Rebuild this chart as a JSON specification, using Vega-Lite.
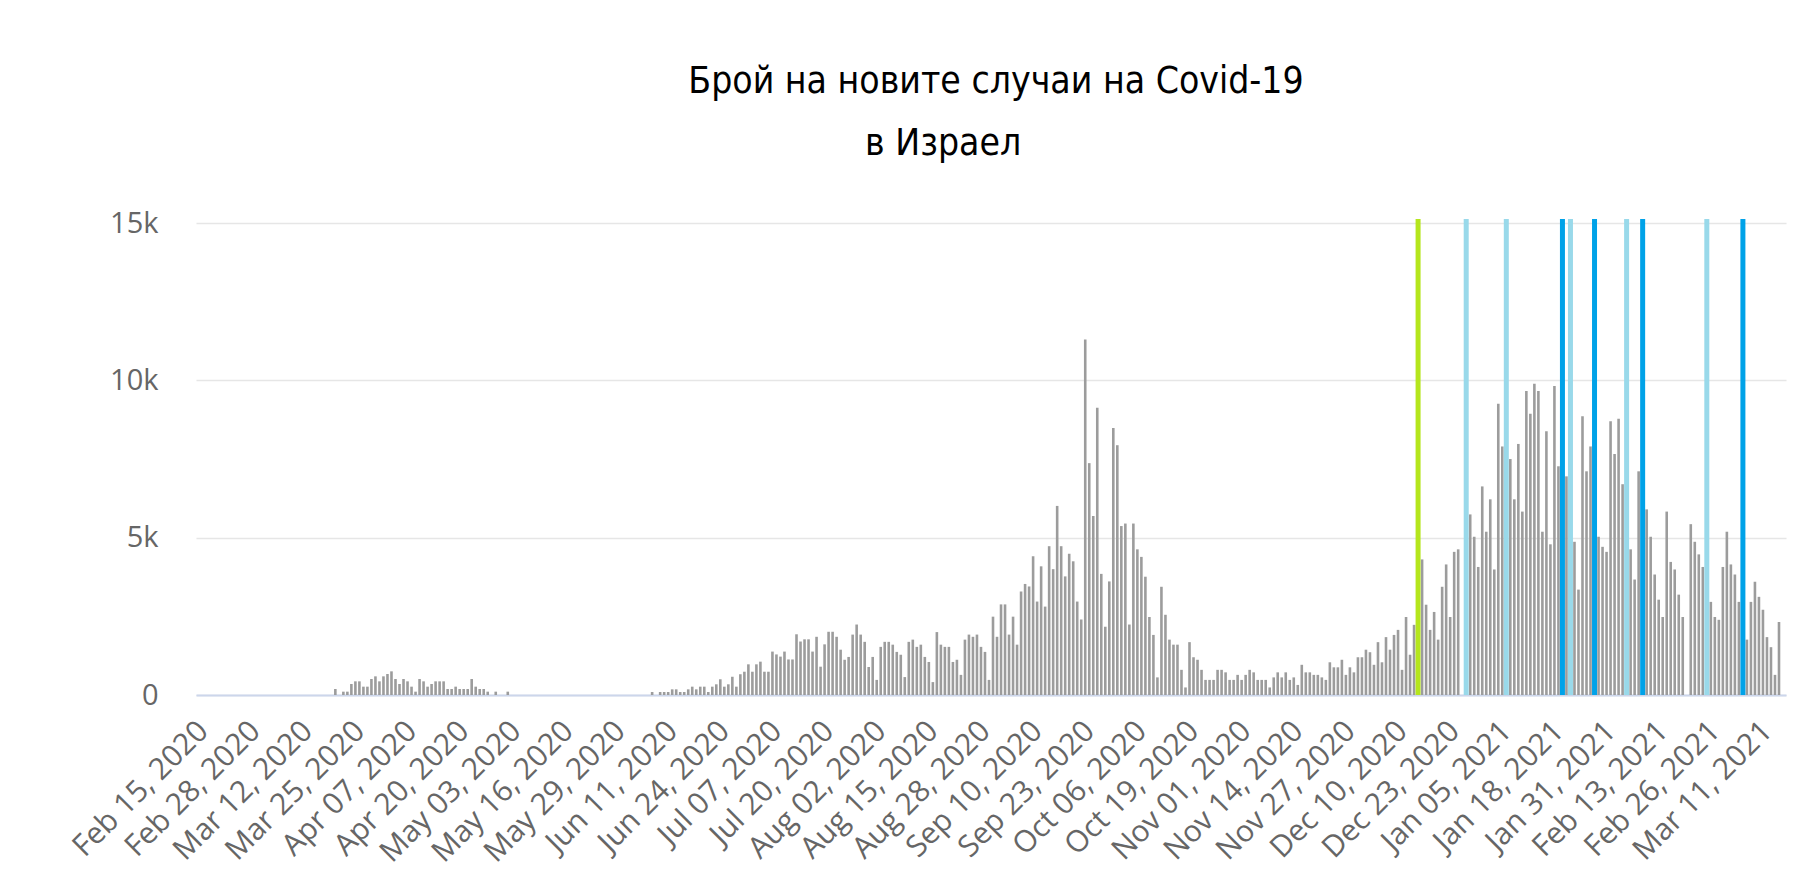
{
  "$schema": "https://vega.github.io/schema/vega-lite/v6.json",
  "autosize": {"type": "none"},
  "padding": {"left": 196, "top": 219, "right": 28, "bottom": 194},
  "width": 1590,
  "height": 476,
  "background": "#ffffff",
  "title": {
    "text": ["Брой на новите случаи на Covid-19", "в Израел\u00a0\u00a0\u00a0\u00a0\u00a0\u00a0\u00a0\u00a0\u00a0\u00a0\u200b"],
    "font": "'DejaVu Sans Condensed', 'Liberation Sans Narrow', 'Roboto Condensed', sans-serif",
    "fontSize": 37,
    "fontWeight": "normal",
    "color": "#000000",
    "anchor": "middle",
    "frame": "group",
    "dx": 5,
    "offset": 46,
    "lineHeight": 62
  },
  "datasets": {
    "cases": [
      {"date": "2020-03-19T12:00", "cases": 190},
      {"date": "2020-03-21T12:00", "cases": 106},
      {"date": "2020-03-22T12:00", "cases": 106},
      {"date": "2020-03-23T12:00", "cases": 350},
      {"date": "2020-03-24T12:00", "cases": 434},
      {"date": "2020-03-25T12:00", "cases": 434},
      {"date": "2020-03-26T12:00", "cases": 265},
      {"date": "2020-03-27T12:00", "cases": 265},
      {"date": "2020-03-28T12:00", "cases": 508},
      {"date": "2020-03-29T12:00", "cases": 593},
      {"date": "2020-03-30T12:00", "cases": 434},
      {"date": "2020-03-31T12:00", "cases": 593},
      {"date": "2020-04-01T12:00", "cases": 667},
      {"date": "2020-04-02T12:00", "cases": 752},
      {"date": "2020-04-03T12:00", "cases": 508},
      {"date": "2020-04-04T12:00", "cases": 350},
      {"date": "2020-04-05T12:00", "cases": 508},
      {"date": "2020-04-06T12:00", "cases": 434},
      {"date": "2020-04-07T12:00", "cases": 265},
      {"date": "2020-04-08T12:00", "cases": 106},
      {"date": "2020-04-09T12:00", "cases": 508},
      {"date": "2020-04-10T12:00", "cases": 434},
      {"date": "2020-04-11T12:00", "cases": 265},
      {"date": "2020-04-12T12:00", "cases": 350},
      {"date": "2020-04-13T12:00", "cases": 434},
      {"date": "2020-04-14T12:00", "cases": 434},
      {"date": "2020-04-15T12:00", "cases": 434},
      {"date": "2020-04-16T12:00", "cases": 190},
      {"date": "2020-04-17T12:00", "cases": 190},
      {"date": "2020-04-18T12:00", "cases": 265},
      {"date": "2020-04-19T12:00", "cases": 190},
      {"date": "2020-04-20T12:00", "cases": 190},
      {"date": "2020-04-21T12:00", "cases": 190},
      {"date": "2020-04-22T12:00", "cases": 508},
      {"date": "2020-04-23T12:00", "cases": 265},
      {"date": "2020-04-24T12:00", "cases": 190},
      {"date": "2020-04-25T12:00", "cases": 190},
      {"date": "2020-04-26T12:00", "cases": 106},
      {"date": "2020-04-28T12:00", "cases": 106},
      {"date": "2020-05-01T12:00", "cases": 106},
      {"date": "2020-06-06T12:00", "cases": 95},
      {"date": "2020-06-08T12:00", "cases": 95},
      {"date": "2020-06-09T12:00", "cases": 95},
      {"date": "2020-06-10T12:00", "cases": 95},
      {"date": "2020-06-11T12:00", "cases": 180},
      {"date": "2020-06-12T12:00", "cases": 180},
      {"date": "2020-06-13T12:00", "cases": 95},
      {"date": "2020-06-14T12:00", "cases": 95},
      {"date": "2020-06-15T12:00", "cases": 180},
      {"date": "2020-06-16T12:00", "cases": 265},
      {"date": "2020-06-17T12:00", "cases": 180},
      {"date": "2020-06-18T12:00", "cases": 265},
      {"date": "2020-06-19T12:00", "cases": 265},
      {"date": "2020-06-20T12:00", "cases": 95},
      {"date": "2020-06-21T12:00", "cases": 265},
      {"date": "2020-06-22T12:00", "cases": 340},
      {"date": "2020-06-23T12:00", "cases": 500},
      {"date": "2020-06-24T12:00", "cases": 265},
      {"date": "2020-06-25T12:00", "cases": 340},
      {"date": "2020-06-26T12:00", "cases": 580},
      {"date": "2020-06-27T12:00", "cases": 265},
      {"date": "2020-06-28T12:00", "cases": 660},
      {"date": "2020-06-29T12:00", "cases": 740},
      {"date": "2020-06-30T12:00", "cases": 975},
      {"date": "2020-07-01T12:00", "cases": 740},
      {"date": "2020-07-02T12:00", "cases": 975},
      {"date": "2020-07-03T12:00", "cases": 1060},
      {"date": "2020-07-04T12:00", "cases": 740},
      {"date": "2020-07-05T12:00", "cases": 740},
      {"date": "2020-07-06T12:00", "cases": 1380},
      {"date": "2020-07-07T12:00", "cases": 1290},
      {"date": "2020-07-08T12:00", "cases": 1220},
      {"date": "2020-07-09T12:00", "cases": 1380},
      {"date": "2020-07-10T12:00", "cases": 1130},
      {"date": "2020-07-11T12:00", "cases": 1130},
      {"date": "2020-07-12T12:00", "cases": 1930},
      {"date": "2020-07-13T12:00", "cases": 1700},
      {"date": "2020-07-14T12:00", "cases": 1770},
      {"date": "2020-07-15T12:00", "cases": 1770},
      {"date": "2020-07-16T12:00", "cases": 1380},
      {"date": "2020-07-17T12:00", "cases": 1850},
      {"date": "2020-07-18T12:00", "cases": 900},
      {"date": "2020-07-19T12:00", "cases": 1610},
      {"date": "2020-07-20T12:00", "cases": 2010},
      {"date": "2020-07-21T12:00", "cases": 2010},
      {"date": "2020-07-22T12:00", "cases": 1850},
      {"date": "2020-07-23T12:00", "cases": 1440},
      {"date": "2020-07-24T12:00", "cases": 1120},
      {"date": "2020-07-25T12:00", "cases": 1210},
      {"date": "2020-07-26T12:00", "cases": 1920},
      {"date": "2020-07-27T12:00", "cases": 2240},
      {"date": "2020-07-28T12:00", "cases": 1920},
      {"date": "2020-07-29T12:00", "cases": 1690},
      {"date": "2020-07-30T12:00", "cases": 890},
      {"date": "2020-07-31T12:00", "cases": 1210},
      {"date": "2020-08-01T12:00", "cases": 480},
      {"date": "2020-08-02T12:00", "cases": 1530},
      {"date": "2020-08-03T12:00", "cases": 1690},
      {"date": "2020-08-04T12:00", "cases": 1690},
      {"date": "2020-08-05T12:00", "cases": 1600},
      {"date": "2020-08-06T12:00", "cases": 1370},
      {"date": "2020-08-07T12:00", "cases": 1280},
      {"date": "2020-08-08T12:00", "cases": 570},
      {"date": "2020-08-09T12:00", "cases": 1690},
      {"date": "2020-08-10T12:00", "cases": 1760},
      {"date": "2020-08-11T12:00", "cases": 1530},
      {"date": "2020-08-12T12:00", "cases": 1600},
      {"date": "2020-08-13T12:00", "cases": 1210},
      {"date": "2020-08-14T12:00", "cases": 1050},
      {"date": "2020-08-15T12:00", "cases": 410},
      {"date": "2020-08-16T12:00", "cases": 2000},
      {"date": "2020-08-17T12:00", "cases": 1600},
      {"date": "2020-08-18T12:00", "cases": 1530},
      {"date": "2020-08-19T12:00", "cases": 1530},
      {"date": "2020-08-20T12:00", "cases": 1050},
      {"date": "2020-08-21T12:00", "cases": 1120},
      {"date": "2020-08-22T12:00", "cases": 640},
      {"date": "2020-08-23T12:00", "cases": 1760},
      {"date": "2020-08-24T12:00", "cases": 1920},
      {"date": "2020-08-25T12:00", "cases": 1850},
      {"date": "2020-08-26T12:00", "cases": 1920},
      {"date": "2020-08-27T12:00", "cases": 1530},
      {"date": "2020-08-28T12:00", "cases": 1370},
      {"date": "2020-08-29T12:00", "cases": 480},
      {"date": "2020-08-30T12:00", "cases": 2490},
      {"date": "2020-08-31T12:00", "cases": 1850},
      {"date": "2020-09-01T12:00", "cases": 2880},
      {"date": "2020-09-02T12:00", "cases": 2880},
      {"date": "2020-09-03T12:00", "cases": 1920},
      {"date": "2020-09-04T12:00", "cases": 2490},
      {"date": "2020-09-05T12:00", "cases": 1600},
      {"date": "2020-09-06T12:00", "cases": 3290},
      {"date": "2020-09-07T12:00", "cases": 3530},
      {"date": "2020-09-08T12:00", "cases": 3450},
      {"date": "2020-09-09T12:00", "cases": 4410},
      {"date": "2020-09-10T12:00", "cases": 2970},
      {"date": "2020-09-11T12:00", "cases": 4090},
      {"date": "2020-09-12T12:00", "cases": 2810},
      {"date": "2020-09-13T12:00", "cases": 4730},
      {"date": "2020-09-14T12:00", "cases": 4000},
      {"date": "2020-09-15T12:00", "cases": 6010},
      {"date": "2020-09-16T12:00", "cases": 4730},
      {"date": "2020-09-17T12:00", "cases": 3770},
      {"date": "2020-09-18T12:00", "cases": 4490},
      {"date": "2020-09-19T12:00", "cases": 4250},
      {"date": "2020-09-20T12:00", "cases": 2970},
      {"date": "2020-09-21T12:00", "cases": 2400},
      {"date": "2020-09-22T12:00", "cases": 11300},
      {"date": "2020-09-23T12:00", "cases": 7370},
      {"date": "2020-09-24T12:00", "cases": 5690},
      {"date": "2020-09-25T12:00", "cases": 9130},
      {"date": "2020-09-26T12:00", "cases": 3850},
      {"date": "2020-09-27T12:00", "cases": 2170},
      {"date": "2020-09-28T12:00", "cases": 3610},
      {"date": "2020-09-29T12:00", "cases": 8490},
      {"date": "2020-09-30T12:00", "cases": 7940},
      {"date": "2020-10-01T12:00", "cases": 5370},
      {"date": "2020-10-02T12:00", "cases": 5450},
      {"date": "2020-10-03T12:00", "cases": 2240},
      {"date": "2020-10-04T12:00", "cases": 5450},
      {"date": "2020-10-05T12:00", "cases": 4630},
      {"date": "2020-10-06T12:00", "cases": 4390},
      {"date": "2020-10-07T12:00", "cases": 3760},
      {"date": "2020-10-08T12:00", "cases": 2480},
      {"date": "2020-10-09T12:00", "cases": 1910},
      {"date": "2020-10-10T12:00", "cases": 560},
      {"date": "2020-10-11T12:00", "cases": 3440},
      {"date": "2020-10-12T12:00", "cases": 2550},
      {"date": "2020-10-13T12:00", "cases": 1760},
      {"date": "2020-10-14T12:00", "cases": 1600},
      {"date": "2020-10-15T12:00", "cases": 1600},
      {"date": "2020-10-16T12:00", "cases": 800},
      {"date": "2020-10-17T12:00", "cases": 240},
      {"date": "2020-10-18T12:00", "cases": 1680},
      {"date": "2020-10-19T12:00", "cases": 1200},
      {"date": "2020-10-20T12:00", "cases": 1120},
      {"date": "2020-10-21T12:00", "cases": 800},
      {"date": "2020-10-22T12:00", "cases": 480},
      {"date": "2020-10-23T12:00", "cases": 480},
      {"date": "2020-10-24T12:00", "cases": 480},
      {"date": "2020-10-25T12:00", "cases": 800},
      {"date": "2020-10-26T12:00", "cases": 800},
      {"date": "2020-10-27T12:00", "cases": 720},
      {"date": "2020-10-28T12:00", "cases": 480},
      {"date": "2020-10-29T12:00", "cases": 480},
      {"date": "2020-10-30T12:00", "cases": 640},
      {"date": "2020-10-31T12:00", "cases": 480},
      {"date": "2020-11-01T12:00", "cases": 640},
      {"date": "2020-11-02T12:00", "cases": 800},
      {"date": "2020-11-03T12:00", "cases": 720},
      {"date": "2020-11-04T12:00", "cases": 480},
      {"date": "2020-11-05T12:00", "cases": 480},
      {"date": "2020-11-06T12:00", "cases": 480},
      {"date": "2020-11-07T12:00", "cases": 240},
      {"date": "2020-11-08T12:00", "cases": 560},
      {"date": "2020-11-09T12:00", "cases": 720},
      {"date": "2020-11-10T12:00", "cases": 560},
      {"date": "2020-11-11T12:00", "cases": 720},
      {"date": "2020-11-12T12:00", "cases": 480},
      {"date": "2020-11-13T12:00", "cases": 560},
      {"date": "2020-11-14T12:00", "cases": 320},
      {"date": "2020-11-15T12:00", "cases": 960},
      {"date": "2020-11-16T12:00", "cases": 720},
      {"date": "2020-11-17T12:00", "cases": 720},
      {"date": "2020-11-18T12:00", "cases": 640},
      {"date": "2020-11-19T12:00", "cases": 640},
      {"date": "2020-11-20T12:00", "cases": 560},
      {"date": "2020-11-21T12:00", "cases": 480},
      {"date": "2020-11-22T12:00", "cases": 1040},
      {"date": "2020-11-23T12:00", "cases": 880},
      {"date": "2020-11-24T12:00", "cases": 880},
      {"date": "2020-11-25T12:00", "cases": 1120},
      {"date": "2020-11-26T12:00", "cases": 640},
      {"date": "2020-11-27T12:00", "cases": 880},
      {"date": "2020-11-28T12:00", "cases": 720},
      {"date": "2020-11-29T12:00", "cases": 1200},
      {"date": "2020-11-30T12:00", "cases": 1200},
      {"date": "2020-12-01T12:00", "cases": 1440},
      {"date": "2020-12-02T12:00", "cases": 1360},
      {"date": "2020-12-03T12:00", "cases": 960},
      {"date": "2020-12-04T12:00", "cases": 1680},
      {"date": "2020-12-05T12:00", "cases": 1040},
      {"date": "2020-12-06T12:00", "cases": 1840},
      {"date": "2020-12-07T12:00", "cases": 1440},
      {"date": "2020-12-08T12:00", "cases": 1910},
      {"date": "2020-12-09T12:00", "cases": 2070},
      {"date": "2020-12-10T12:00", "cases": 800},
      {"date": "2020-12-11T12:00", "cases": 2480},
      {"date": "2020-12-12T12:00", "cases": 1280},
      {"date": "2020-12-13T12:00", "cases": 2230},
      {"date": "2020-12-15T12:00", "cases": 4310},
      {"date": "2020-12-16T12:00", "cases": 2870},
      {"date": "2020-12-17T12:00", "cases": 2070},
      {"date": "2020-12-18T12:00", "cases": 2640},
      {"date": "2020-12-19T12:00", "cases": 1760},
      {"date": "2020-12-20T12:00", "cases": 3440},
      {"date": "2020-12-21T12:00", "cases": 4150},
      {"date": "2020-12-22T12:00", "cases": 2480},
      {"date": "2020-12-23T12:00", "cases": 4550},
      {"date": "2020-12-24T12:00", "cases": 4630},
      {"date": "2020-12-27T12:00", "cases": 5740},
      {"date": "2020-12-28T12:00", "cases": 5030},
      {"date": "2020-12-29T12:00", "cases": 4070},
      {"date": "2020-12-30T12:00", "cases": 6630},
      {"date": "2020-12-31T12:00", "cases": 5190},
      {"date": "2021-01-01T12:00", "cases": 6220},
      {"date": "2021-01-02T12:00", "cases": 3990},
      {"date": "2021-01-03T12:00", "cases": 9260},
      {"date": "2021-01-04T12:00", "cases": 7900},
      {"date": "2021-01-06T12:00", "cases": 7500},
      {"date": "2021-01-07T12:00", "cases": 6220},
      {"date": "2021-01-08T12:00", "cases": 7980},
      {"date": "2021-01-09T12:00", "cases": 5830},
      {"date": "2021-01-10T12:00", "cases": 9660},
      {"date": "2021-01-11T12:00", "cases": 8940},
      {"date": "2021-01-12T12:00", "cases": 9890},
      {"date": "2021-01-13T12:00", "cases": 9660},
      {"date": "2021-01-14T12:00", "cases": 5190},
      {"date": "2021-01-15T12:00", "cases": 8380},
      {"date": "2021-01-16T12:00", "cases": 4790},
      {"date": "2021-01-17T12:00", "cases": 9820},
      {"date": "2021-01-18T12:00", "cases": 7270},
      {"date": "2021-01-19T12:00", "cases": 10100},
      {"date": "2021-01-20T12:00", "cases": 6950},
      {"date": "2021-01-22T12:00", "cases": 4870},
      {"date": "2021-01-23T12:00", "cases": 3350},
      {"date": "2021-01-24T12:00", "cases": 8860},
      {"date": "2021-01-25T12:00", "cases": 7110},
      {"date": "2021-01-26T12:00", "cases": 7900},
      {"date": "2021-01-28T12:00", "cases": 5030},
      {"date": "2021-01-29T12:00", "cases": 4710},
      {"date": "2021-01-30T12:00", "cases": 4550},
      {"date": "2021-01-31T12:00", "cases": 8700},
      {"date": "2021-02-01T12:00", "cases": 7660},
      {"date": "2021-02-02T12:00", "cases": 8780},
      {"date": "2021-02-03T12:00", "cases": 6700},
      {"date": "2021-02-05T12:00", "cases": 4630},
      {"date": "2021-02-06T12:00", "cases": 3670},
      {"date": "2021-02-07T12:00", "cases": 7110},
      {"date": "2021-02-09T12:00", "cases": 5900},
      {"date": "2021-02-10T12:00", "cases": 5030},
      {"date": "2021-02-11T12:00", "cases": 3830},
      {"date": "2021-02-12T12:00", "cases": 3030},
      {"date": "2021-02-13T12:00", "cases": 2480},
      {"date": "2021-02-14T12:00", "cases": 5830},
      {"date": "2021-02-15T12:00", "cases": 4230},
      {"date": "2021-02-16T12:00", "cases": 3990},
      {"date": "2021-02-17T12:00", "cases": 3190},
      {"date": "2021-02-18T12:00", "cases": 2480},
      {"date": "2021-02-20T12:00", "cases": 5430},
      {"date": "2021-02-21T12:00", "cases": 4870},
      {"date": "2021-02-22T12:00", "cases": 4470},
      {"date": "2021-02-23T12:00", "cases": 4070},
      {"date": "2021-02-24T12:00", "cases": 3910},
      {"date": "2021-02-25T12:00", "cases": 2960},
      {"date": "2021-02-26T12:00", "cases": 2480},
      {"date": "2021-02-27T12:00", "cases": 2390},
      {"date": "2021-02-28T12:00", "cases": 4070},
      {"date": "2021-03-01T12:00", "cases": 5190},
      {"date": "2021-03-02T12:00", "cases": 4150},
      {"date": "2021-03-03T12:00", "cases": 3830},
      {"date": "2021-03-04T12:00", "cases": 2960},
      {"date": "2021-03-05T12:00", "cases": 3190},
      {"date": "2021-03-06T12:00", "cases": 1760},
      {"date": "2021-03-07T12:00", "cases": 2960},
      {"date": "2021-03-08T12:00", "cases": 3600},
      {"date": "2021-03-09T12:00", "cases": 3120},
      {"date": "2021-03-10T12:00", "cases": 2710},
      {"date": "2021-03-11T12:00", "cases": 1840},
      {"date": "2021-03-12T12:00", "cases": 1520},
      {"date": "2021-03-13T12:00", "cases": 640},
      {"date": "2021-03-14T12:00", "cases": 2320}
    ],
    "marks": [
      {"date": "2020-12-14T12:00", "kind": "green", "cases": 15130},
      {"date": "2020-12-26T12:00", "kind": "light", "cases": 15130},
      {"date": "2021-01-05T12:00", "kind": "light", "cases": 15130},
      {"date": "2021-01-19T12:00", "kind": "dark", "cases": 15130},
      {"date": "2021-01-21T12:00", "kind": "light", "cases": 15130},
      {"date": "2021-01-27T12:00", "kind": "dark", "cases": 15130},
      {"date": "2021-02-04T12:00", "kind": "light", "cases": 15130},
      {"date": "2021-02-08T12:00", "kind": "dark", "cases": 15130},
      {"date": "2021-02-24T12:00", "kind": "light", "cases": 15130},
      {"date": "2021-03-05T12:00", "kind": "dark", "cases": 15130}
    ]
  },
  "encoding": {
    "x": {
      "field": "date",
      "type": "temporal",
      "scale": {
        "domain": [
          {"year": 2020, "month": "feb", "date": 15},
          {"year": 2021, "month": "mar", "date": 15}
        ]
      },
      "axis": {
        "title": null,
        "format": "%b %d, %Y",
        "values": [
          {"year": 2020, "month": "feb", "date": 15, "hours": 12},
          {"year": 2020, "month": "feb", "date": 28, "hours": 12},
          {"year": 2020, "month": "mar", "date": 12, "hours": 12},
          {"year": 2020, "month": "mar", "date": 25, "hours": 12},
          {"year": 2020, "month": "apr", "date": 7, "hours": 12},
          {"year": 2020, "month": "apr", "date": 20, "hours": 12},
          {"year": 2020, "month": "may", "date": 3, "hours": 12},
          {"year": 2020, "month": "may", "date": 16, "hours": 12},
          {"year": 2020, "month": "may", "date": 29, "hours": 12},
          {"year": 2020, "month": "jun", "date": 11, "hours": 12},
          {"year": 2020, "month": "jun", "date": 24, "hours": 12},
          {"year": 2020, "month": "jul", "date": 7, "hours": 12},
          {"year": 2020, "month": "jul", "date": 20, "hours": 12},
          {"year": 2020, "month": "aug", "date": 2, "hours": 12},
          {"year": 2020, "month": "aug", "date": 15, "hours": 12},
          {"year": 2020, "month": "aug", "date": 28, "hours": 12},
          {"year": 2020, "month": "sep", "date": 10, "hours": 12},
          {"year": 2020, "month": "sep", "date": 23, "hours": 12},
          {"year": 2020, "month": "oct", "date": 6, "hours": 12},
          {"year": 2020, "month": "oct", "date": 19, "hours": 12},
          {"year": 2020, "month": "nov", "date": 1, "hours": 12},
          {"year": 2020, "month": "nov", "date": 14, "hours": 12},
          {"year": 2020, "month": "nov", "date": 27, "hours": 12},
          {"year": 2020, "month": "dec", "date": 10, "hours": 12},
          {"year": 2020, "month": "dec", "date": 23, "hours": 12},
          {"year": 2021, "month": "jan", "date": 5, "hours": 12},
          {"year": 2021, "month": "jan", "date": 18, "hours": 12},
          {"year": 2021, "month": "jan", "date": 31, "hours": 12},
          {"year": 2021, "month": "feb", "date": 13, "hours": 12},
          {"year": 2021, "month": "feb", "date": 26, "hours": 12},
          {"year": 2021, "month": "mar", "date": 11, "hours": 12}
        ],
        "labelAngle": -45,
        "labelAlign": "right",
        "labelBaseline": "middle",
        "labelPadding": 31,
        "labelFlush": false,
        "labelOverlap": false,
        "labelLimit": 400,
        "labelFont": "Open Sans",
        "labelFontSize": 30,
        "labelColor": "#666666",
        "ticks": false,
        "grid": false,
        "domainColor": "#ccd6eb",
        "domainWidth": 2
      }
    },
    "y": {
      "field": "cases",
      "type": "quantitative",
      "scale": {"domain": [0, 15130], "nice": false},
      "axis": {
        "title": null,
        "values": [0, 5000, 10000, 15000],
        "labelExpr": "datum.value === 0 ? '0' : (datum.value / 1000) + 'k'",
        "labelFont": "Open Sans",
        "labelFontSize": 29,
        "labelColor": "#666666",
        "labelPadding": 38,
        "ticks": false,
        "domain": false,
        "grid": true,
        "gridColor": "#e6e6e6",
        "gridWidth": 1.5
      }
    }
  },
  "layer": [
    {
      "data": {"name": "cases"},
      "mark": {"type": "bar", "size": 2.6, "color": "#9c9c9c"}
    },
    {
      "data": {"name": "marks"},
      "mark": {"type": "bar", "size": 5},
      "encoding": {
        "color": {
          "field": "kind",
          "type": "nominal",
          "scale": {"domain": ["green", "light", "dark"], "range": ["#b5e61d", "#99d9ea", "#00a2e8"]},
          "legend": null
        }
      }
    }
  ],
  "config": {"view": {"stroke": null}}
}
